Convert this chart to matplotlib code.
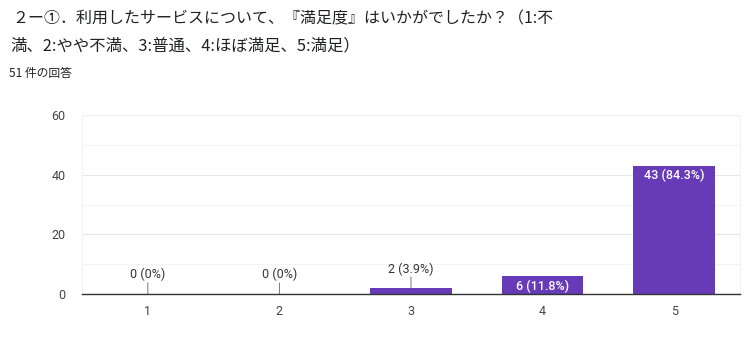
import matplotlib
matplotlib.use("Agg")
import matplotlib.pyplot as plt

plt.rcParams['font.family'] = ['Noto Sans CJK JP', 'DejaVu Sans']

# survey answers
categories = [1, 2, 3, 4, 5]
counts = [0, 0, 2, 6, 43]
labels = ['0 (0%)', '0 (0%)', '2 (3.9%)', '6 (11.8%)', '43 (84.3%)']
yticks = [0, 20, 40, 60]

title_1 = '２ー①．利用したサービスについて、『満足度』はいかがでしたか？（1:不'
title_2 = '満、2:やや不満、3:普通、4:ほぼ満足、5:満足）'
subtitle = '51 件の回答'

purple = '#673ab7'
num_font = ['Roboto', 'DejaVu Sans']

fig = plt.figure(figsize=(7.48, 3.41), dpi=100)
fig.text(12 / 748, 1 - 19 / 341, title_1, fontsize=11.5, color='#202124', va='center')
fig.text(10 / 748, 1 - 46 / 341, title_2, fontsize=11.8, color='#202124', va='center')
fig.text(9 / 748, 1 - 73 / 341, subtitle, fontsize=8.5, color='#202124', va='center')

ax = fig.add_axes([82 / 748, 47 / 341, 658 / 748, 179 / 341])
ax.bar(categories, counts, width=0.62, color=purple, zorder=3)

ax.set_xlim(0.5, 5.5)
ax.set_ylim(0, 60)
ax.set_yticks(yticks)
ax.set_yticks([10, 30, 50], minor=True)
ax.grid(axis='y', which='major', color='#e6e6e6', lw=0.8, zorder=0)
ax.grid(axis='y', which='minor', color='#f4f4f4', lw=0.8, zorder=0)
ax.set_xticks(categories)
ax.tick_params(axis='both', which='both', length=0, labelsize=9, labelcolor='#444444')
ax.tick_params(axis='y', pad=12)
ax.tick_params(axis='x', pad=8)
for t in ax.get_xticklabels() + ax.get_yticklabels():
    t.set_family(num_font)

for s in ['top', 'right', 'left']:
    ax.spines[s].set_color('#f2f2f2')
    ax.spines[s].set_linewidth(0.8)
ax.spines['bottom'].set_color('#333333')
ax.spines['bottom'].set_linewidth(1.0)
ax.spines['bottom'].set_zorder(4)

for x, c, lab in zip(categories, counts, labels):
    if c < 5:
        # small bars: label above with a leader line
        ax.annotate('', xy=(x, c), xytext=(0, 8), textcoords='offset points',
                    arrowprops=dict(arrowstyle='-', color='#777777', lw=0.7,
                                    shrinkA=0, shrinkB=0), zorder=4)
        ax.annotate(lab, xy=(x, c), xytext=(0, 9), textcoords='offset points',
                    ha='center', va='bottom', fontsize=9, color='#333333',
                    family=num_font)
    else:
        ax.annotate(lab, xy=(x, c), xytext=(0, -2.5), textcoords='offset points',
                    ha='center', va='top', fontsize=9, color='white',
                    fontweight='medium', family=num_font)

fig.savefig('out.png', dpi=100)
